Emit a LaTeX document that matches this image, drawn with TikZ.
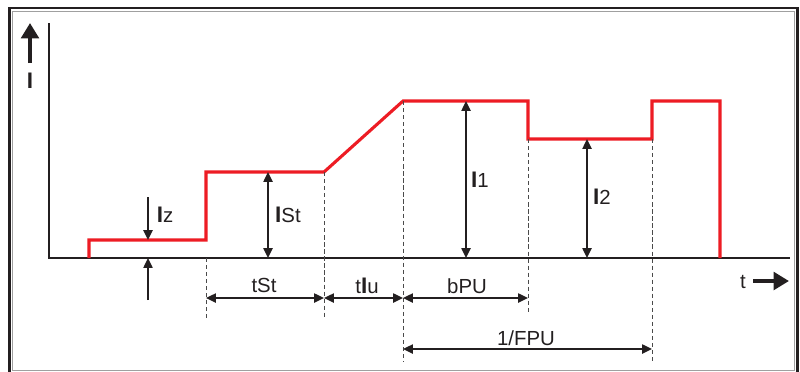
\documentclass[tikz,border=0pt]{standalone}
\usepackage{fontspec}
\setmainfont{Liberation Sans}
\usetikzlibrary{arrows.meta,positioning,calc}
\definecolor{Pulse}{HTML}{ED1C24}
\definecolor{Ink}{HTML}{231F20}
\definecolor{Rim}{HTML}{A0A0A0}
\definecolor{Guide}{HTML}{4A4A4A}
\newcommand{\bigI}{{\fontsize{16}{16}\selectfont\textbf{I}}}

\begin{document}
\begin{tikzpicture}[x=0.025cm,y=-0.025cm,
    axis/.style={line width=2.1pt,Ink},
    curve/.style={line width=2.2pt,Pulse,line join=miter},
    guide/.style={line width=0.6pt,Guide,dash pattern=on 3pt off 2pt},
    dim/.style={line width=1.4pt,Ink,
      {Triangle[length=7pt,width=6.4pt]}-{Triangle[length=7pt,width=6.4pt]}},
    tip/.style={line width=1.4pt,Ink,-{Triangle[length=7pt,width=6.4pt]}},
    bigtip/.style={line width=2.8pt,Ink,-{Triangle[length=11pt,width=12.5pt]}},
    lbl/.style={font=\fontsize{14.5}{16}\selectfont,text=Ink,inner sep=0pt,anchor=base}
  ]
    \useasboundingbox (0,0) rectangle (800,371);
    \draw[line width=1.8pt,Ink] (9.5,8) rectangle (797.5,380);
    \draw[line width=0.7pt,Rim] (12.5,11.5) rectangle (794,370);

    \coordinate (o) at (49,258);
    \coordinate (ytop) at (49,23);
    \coordinate (xend) at (790,258);
    \draw[axis] (ytop) -- (o) -- (xend);

    \coordinate (iB) at (30,63);
    \coordinate (iT) at (30,23);
    \draw[bigtip] (iB) -- (iT);
    \node[lbl] (ilbl) at (30,88) {\bigI};
    \coordinate (tA) at (753,281);
    \coordinate (tB) at (789,281);
    \draw[bigtip] (tA) -- (tB);
    \node[lbl] (tlbl) at (743,288) {t};

    \coordinate (start) at (89,258);
    \coordinate (zA) at (89,240);
    \coordinate (zB) at (206,240);
    \coordinate (stA) at (206,172);
    \coordinate (stB) at (324,172);
    \coordinate (pA) at (403,101);
    \coordinate (pB) at (528,101);
    \coordinate (qA) at (528,139);
    \coordinate (qB) at (652,139);
    \coordinate (nA) at (652,101);
    \coordinate (nB) at (720,101);
    \coordinate (stop) at (720,258);
    \draw[curve] (start) -- (zA) -- (zB) -- (stA) -- (stB) -- (pA) -- (pB)
      -- (qA) -- (qB) -- (nA) -- (nB) -- (stop);

    \coordinate (row1) at (0,298);
    \coordinate (row2) at (0,349);
    \coordinate (short) at (0,318);
    \coordinate (mid) at (0,313);
    \coordinate (long) at (0,362);
    \draw[guide] (zB |- o) -- (zB |- short);
    \draw[guide] (stB) -- (stB |- short);
    \draw[guide] (pA) -- (pA |- long);
    \draw[guide] (qA) -- (qA |- mid);
    \draw[guide] (qB) -- (qB |- long);

    \draw[dim] (zB |- row1) -- (stB |- row1);
    \draw[dim] (stB |- row1) -- (pA |- row1);
    \draw[dim] (pA |- row1) -- (qA |- row1);
    \draw[dim] (pA |- row2) -- (qB |- row2);
    \node[lbl] (tst) at (264,292) {tSt};
    \node[lbl] (tiu) at (367,293) {t\bigI u};
    \node[lbl] (bpu) at (467,293) {bPU};
    \node[lbl] (fpu) at (526,345) {1/FPU};

    \coordinate (izT) at (148,197);
    \coordinate (izB) at (148,300);
    \draw[tip] (izT) -- (izT |- zA);
    \draw[tip] (izB) -- (izB |- o);
    \node[lbl] (iz) at (165,222) {\bigI z};

    \coordinate (ist) at (268,0);
    \coordinate (ione) at (466,0);
    \coordinate (itwo) at (587,0);
    \draw[dim] (ist |- stA) -- (ist |- o);
    \draw[dim] (ione |- pA) -- (ione |- o);
    \draw[dim] (itwo |- qA) -- (itwo |- o);
    \node[lbl] (istl) at (288,222) {\bigI St};
    \node[lbl] (i1) at (480,187) {\bigI 1};
    \node[lbl] (i2) at (602,204) {\bigI 2};
\end{tikzpicture}
\end{document}
